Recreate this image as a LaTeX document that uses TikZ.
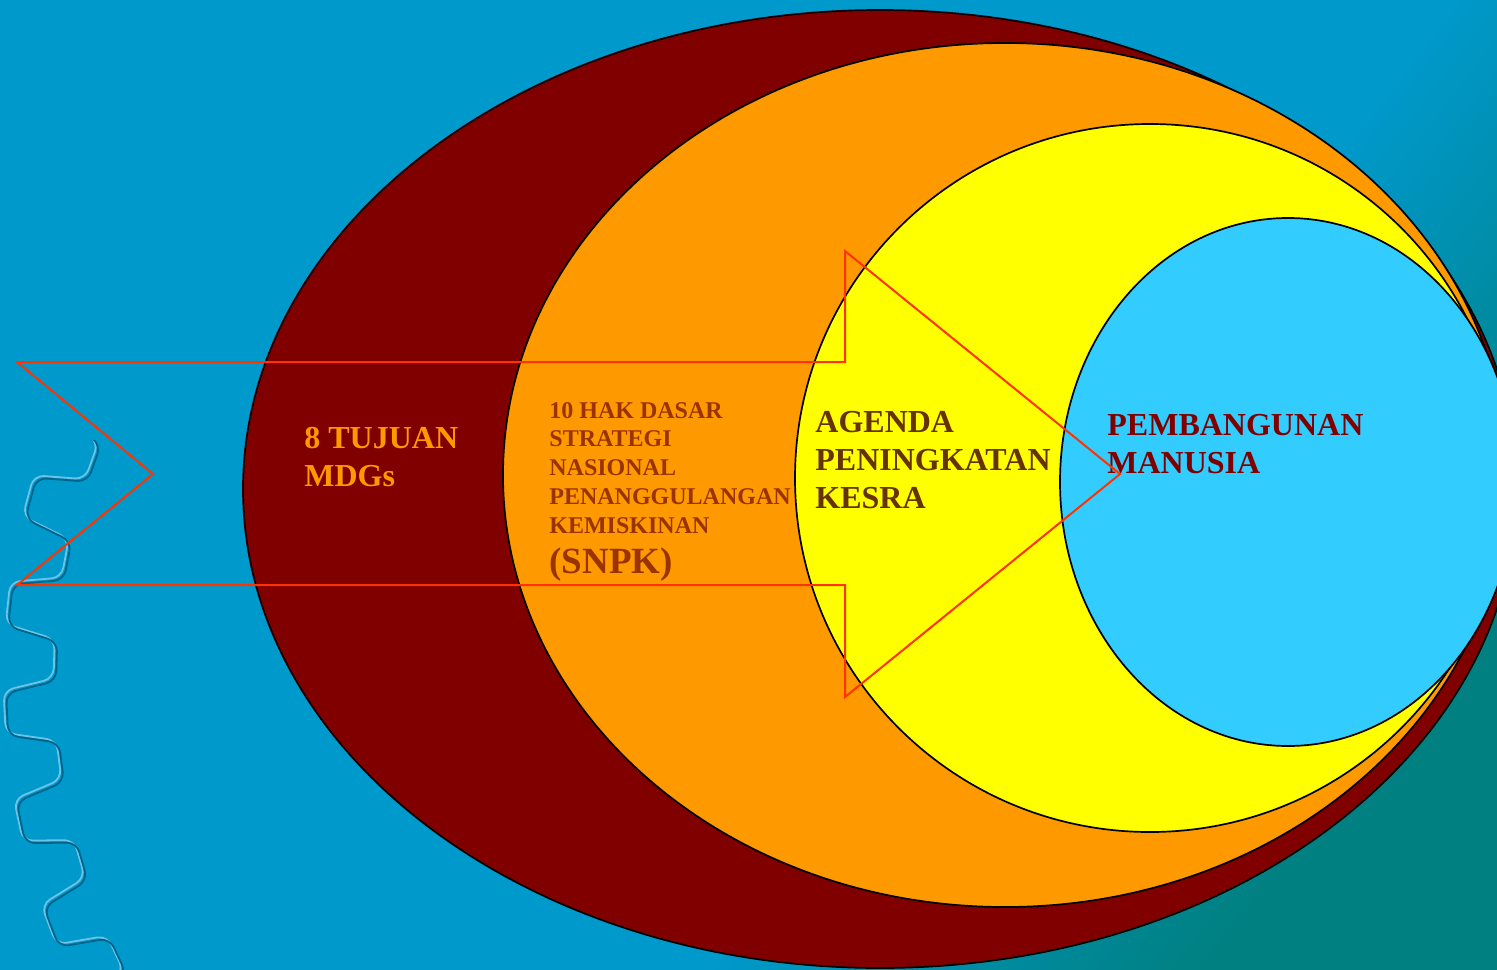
\documentclass[tikz,border=0pt]{standalone}
\usepackage{fontspec}
\setmainfont{Liberation Serif}
\definecolor{bgA}{RGB}{0,153,204}
\definecolor{bgC}{RGB}{0,128,128}
\definecolor{darkred}{RGB}{128,0,0}
\definecolor{orng}{RGB}{255,153,0}
\definecolor{yell}{RGB}{255,255,0}
\definecolor{cyanb}{RGB}{51,204,255}
\definecolor{arrowred}{RGB}{255,51,0}
\definecolor{brownA}{RGB}{153,51,0}
\definecolor{brownB}{RGB}{102,51,0}
\definecolor{geardark}{RGB}{0,100,140}
\definecolor{gearlight}{RGB}{110,195,228}
\begin{document}
\begin{tikzpicture}[x=0.5pt,y=-0.5pt,
  ell/.style={draw=black,line width=0.85pt},
  lbl/.style={inner sep=0pt, align=left, anchor=base west, font=\fontsize{16}{19}\selectfont\bfseries},
  smalllbl/.style={inner sep=0pt, align=left, anchor=base west, font=\fontsize{12}{14.35}\selectfont\bfseries},
  arrowline/.style={draw=arrowred, line width=1pt, line join=miter},
  gearpath/.style={line width=0.9pt, rounded corners=5pt}]
\useasboundingbox (0,0) rectangle (1497,969);
% background
\fill[bgA] (-20,-20) rectangle (1517,989);
\begin{scope}[rotate=-37.6]
  \foreach \k in {0,...,39}{
    \pgfmathsetmacro\pa{1150+\k*10}
    \pgfmathsetmacro\pc{(\k+0.5)*2.5}
    \fill[bgC!\pc!bgA] (\pa,-2000) rectangle (\pa+10.6,2000);
  }
  \fill[bgC] (1550,-2000) rectangle (2600,2000);
\end{scope}
% gear watermark
\begin{scope}
  \clip (-10,440) rectangle (260,980);
  \draw[gearpath, gearlight, shift={(698.5,678.5)}] (0:645) \foreach \i in {0,...,39}{ -- ({\i*9+3.5}:645) -- ({\i*9+4.5}:695) -- ({\i*9+8}:695) -- ({\i*9+9}:645)};
  \draw[gearpath, geardark, shift={(701,681)}] (0:645) \foreach \i in {0,...,39}{ -- ({\i*9+3.5}:645) -- ({\i*9+4.5}:695) -- ({\i*9+8}:695) -- ({\i*9+9}:645)};
\end{scope}
% ellipses
\draw[ell, fill=darkred] (880,489) ellipse [x radius=637, y radius=479];
\draw[ell, fill=orng] (1005,475) ellipse [x radius=502, y radius=432];
\draw[ell, fill=yell] (1150,478) ellipse [x radius=355, y radius=354];
\draw[ell, fill=cyanb] (1288,482) ellipse [x radius=228, y radius=264];
% labels (base anchor = baseline of last line)
\node[lbl, text=orng] (mdg) at (304,486) {8 TUJUAN\\MDGs};
\node[smalllbl, text=brownA] (hak) at (549,533) {10 HAK DASAR\\STRATEGI\\NASIONAL\\PENANGGULANGAN\\KEMISKINAN};
\node[inner sep=0pt, anchor=base west, text=brownA, font=\fontsize{18.5}{22}\selectfont\bfseries] (snpk) at (549,573) {(SNPK)};
\node[lbl, text=brownB] (kesra) at (815,508) {AGENDA\\PENINGKATAN\\KESRA};
\node[lbl, text=darkred] (pm) at (1107,473) {PEMBANGUNAN\\MANUSIA};
% arrow
\coordinate (n1) at (17,362);
\coordinate (s1) at (845,362);
\coordinate (h1) at (845,251);
\coordinate (tip) at (1120,474);
\coordinate (h2) at (845,697);
\coordinate (s2) at (845,585);
\coordinate (n2) at (17,585);
\coordinate (notch) at (153,474);
\draw[arrowline] (n1) -- (s1) -- (h1) -- (tip) -- (h2) -- (s2) -- (n2) -- (notch) -- cycle;
\end{tikzpicture}
\end{document}
